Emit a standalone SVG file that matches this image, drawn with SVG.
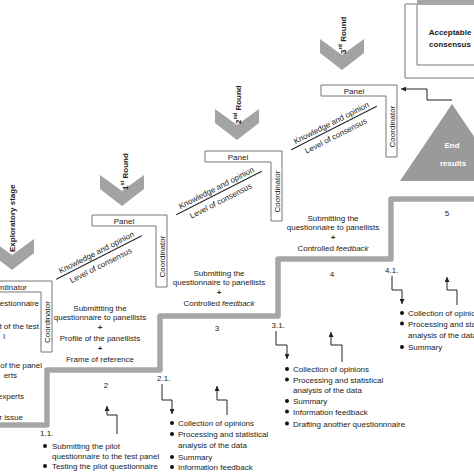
<svg xmlns="http://www.w3.org/2000/svg" width="474" height="474" viewBox="0 0 474 474">
<defs>
<marker id="ah" viewBox="0 0 6 6" refX="6" refY="3" markerWidth="5" markerHeight="5" orient="auto"><path d="M0,0 L6,3 L0,6 Z" fill="#222"/></marker>
</defs>
<style>
.t{font-family:"Liberation Sans",Arial,sans-serif;font-size:8px;fill:#222}
.c{text-anchor:middle}
.e{text-anchor:end}
.bd{font-weight:bold}
.w{fill:#fff}
.box{fill:#fff;stroke:#777;stroke-width:1}
.chev{fill:#a3a3a3}
.stair{fill:none;stroke:#a6a6a6;stroke-width:5.5;stroke-linejoin:round}
.ln{fill:none;stroke:#222;stroke-width:1}
.ar{fill:none;stroke:#222;stroke-width:1;marker-end:url(#ah)}
.dot{fill:#111}
</style>
<rect width="474" height="474" fill="#fff"/>

<g id="staircase">
<path class="stair" d="M0,425 H47 V370 H160 V316 H278 V259 H391 V199 H476"/>
<text class="t c" x="106" y="388">2</text>
<text class="t c" x="217" y="331">3</text>
<text class="t c" x="332" y="277">4</text>
<text class="t c" x="447" y="216">5</text>
</g>

<g id="exploratory">
<polygon class="chev" points="-10,239 12,255 34,239 34,253 12,270 -10,253"/>
<text class="t bd" font-size="9.5" transform="translate(14.5,252) rotate(-90)">Exploratory stage</text>
<path class="box" d="M-10,281 H52 V352 H41 V292 H-10 Z"/>
<text class="t e" x="27" y="289.5">rdinator</text>
<text class="t c" transform="translate(49.5,322) rotate(-90)">Coordinator</text>
<text class="t e" x="39" y="306">uestionnaire</text>
<text class="t e" x="39" y="329">t of the test</text>
<text class="t e" x="5" y="339">l</text>
<text class="t e" x="42" y="368">of the panel</text>
<text class="t e" x="17" y="378">erts</text>
<text class="t e" x="24" y="399">experts</text>
<text class="t e" x="23" y="420">r issue</text>
</g>

<g id="round1">
<polygon class="chev" points="100,175 122,191 144,175 144,189 122,206 100,189"/>
<text class="t bd" font-size="9.5" transform="translate(127.5,190) rotate(-90)">1<tspan font-size="5.5" dy="-3.5">st</tspan><tspan dy="3.5"> Round</tspan></text>
<path class="box" d="M92,215 H167 V287 H156 V226 H92 Z"/>
<text class="t c" x="124" y="224">Panel</text>
<text class="t c" transform="translate(164.5,256.5) rotate(-90)">Coordinator</text>
<g transform="translate(99,257.5) rotate(-27)">
<line class="ln" x1="-48" y1="0" x2="48" y2="0"/>
<text class="t c" x="0" y="-3">Knowledge and opinion</text>
<text class="t c" x="-2" y="10.5">Level of consensus</text>
</g>
</g>

<g id="round2">
<polygon class="chev" points="215,109 237,125 259,109 259,123 237,140 215,123"/>
<text class="t bd" font-size="9.5" transform="translate(240.5,124) rotate(-90)">2<tspan font-size="5.5" dy="-3.5">nd</tspan><tspan dy="3.5"> Round</tspan></text>
<path class="box" d="M205,151 H282 V221 H271 V162 H205 Z"/>
<text class="t c" x="238" y="160">Panel</text>
<text class="t c" transform="translate(279.5,191.5) rotate(-90)">Coordinator</text>
<g transform="translate(219,193) rotate(-27)">
<line class="ln" x1="-48" y1="0" x2="48" y2="0"/>
<text class="t c" x="0" y="-3">Knowledge and opinion</text>
<text class="t c" x="-2" y="10.5">Level of consensus</text>
</g>
</g>

<g id="round3">
<polygon class="chev" points="320,39 342,55 364,39 364,53 342,70 320,53"/>
<text class="t bd" font-size="9.5" transform="translate(345.5,54) rotate(-90)">3<tspan font-size="5.5" dy="-3.5">rd</tspan><tspan dy="3.5"> Round</tspan></text>
<path class="box" d="M321,85 H397 V157 H386 V96 H321 Z"/>
<text class="t c" x="354" y="94">Panel</text>
<text class="t c" transform="translate(394.5,126.5) rotate(-90)">Coordinator</text>
<g transform="translate(334,128) rotate(-27)">
<line class="ln" x1="-48" y1="0" x2="48" y2="0"/>
<text class="t c" x="0" y="-3">Knowledge and opinion</text>
<text class="t c" x="-2" y="10.5">Level of consensus</text>
</g>
</g>

<g id="end-results">
<polygon fill="#9a9a9a" points="452,104 400,181 504,181"/>
<text class="t c bd w" x="452" y="148">End</text>
<text class="t c bd w" x="453" y="166">results</text>
</g>

<g id="acceptable-consensus">
<path fill="none" stroke="#777" stroke-width="1" d="M476,78 H405 V4 H417"/>
<rect x="417" y="0" width="58" height="5" fill="#a6a6a6"/>
<path fill="none" stroke="#777" stroke-width="1" d="M476,65 H417 V5"/>
<text class="t c bd" x="450" y="35">Acceptable</text>
<text class="t c bd" x="450" y="47">consensus</text>
</g>

<g id="step2-text">
<text class="t c" x="100" y="311">Submittting the</text>
<text class="t c" x="100" y="320">questionnaire to panellists</text>
<text class="t c bd" x="100" y="330">+</text>
<text class="t c" x="100" y="341">Profile of the panellists</text>
<text class="t c bd" x="100" y="351">+</text>
<text class="t c" x="100" y="362">Frame of reference</text>
</g>

<g id="step3-text">
<text class="t c" x="219" y="276">Submitting the</text>
<text class="t c" x="219" y="285">questionnaire to panellists</text>
<text class="t c bd" x="219" y="295">+</text>
<text class="t c" x="219" y="306">Controlled <tspan font-style="italic">feedback</tspan></text>
</g>

<g id="step4-text">
<text class="t c" x="333" y="221">Submitting the</text>
<text class="t c" x="333" y="230">questionnaire to panellists</text>
<text class="t c bd" x="333" y="240">+</text>
<text class="t c" x="333" y="251">Controlled <tspan font-style="italic">feedback</tspan></text>
</g>

<g id="connectors">
<path class="ar" d="M117,434 V415 H107 V406"/>
<path class="ar" d="M162,384 V400 H172 V414"/>
<path class="ar" d="M227,415 V400 H217 V386"/>
<path class="ar" d="M276,331 V345 H287 V359"/>
<path class="ar" d="M342,362 V345 H331 V332"/>
<path class="ar" d="M392,276 V290 H402 V304"/>
<path class="ar" d="M457,305 V290 H447 V277"/>
<path class="ar" d="M452,100 H427 V89 H401"/>
</g>

<g id="step1-1">
<text class="t" x="40" y="436">1.1.</text>
<circle class="dot" cx="45" cy="446" r="2"/>
<circle class="dot" cx="45" cy="466" r="2"/>
<text class="t" x="52" y="449">Submitting the pilot</text>
<text class="t" x="52" y="459">questionnaire to the test panel</text>
<text class="t" x="52" y="469">Testing the pilot questionnaire</text>
</g>

<g id="step2-1">
<text class="t" x="157" y="381">2.1.</text>
<circle class="dot" cx="172" cy="423" r="2"/>
<circle class="dot" cx="172" cy="434" r="2"/>
<circle class="dot" cx="172" cy="457" r="2"/>
<circle class="dot" cx="172" cy="467" r="2"/>
<text class="t" x="178" y="426">Collection of opinions</text>
<text class="t" x="178" y="437">Processing and statistical</text>
<text class="t" x="178" y="448">analysis of the data</text>
<text class="t" x="178" y="460">Summary</text>
<text class="t" x="178" y="470">Information feedback</text>
</g>

<g id="step3-1">
<text class="t" x="271.5" y="328">3.1.</text>
<circle class="dot" cx="287" cy="369" r="2"/>
<circle class="dot" cx="287" cy="379.5" r="2"/>
<circle class="dot" cx="287" cy="401" r="2"/>
<circle class="dot" cx="287" cy="411.5" r="2"/>
<circle class="dot" cx="287" cy="423.5" r="2"/>
<text class="t" x="293" y="372">Collection of opinions</text>
<text class="t" x="293" y="382.5">Processing and statistical</text>
<text class="t" x="293" y="393">analysis of the data</text>
<text class="t" x="293" y="404">Summary</text>
<text class="t" x="293" y="414.5">Information feedback</text>
<text class="t" x="293" y="426.5">Drafting another questionnnaire</text>
</g>

<g id="step4-1">
<text class="t" x="385" y="273">4.1.</text>
<circle class="dot" cx="402" cy="313" r="2"/>
<circle class="dot" cx="402" cy="323.5" r="2"/>
<circle class="dot" cx="402" cy="347" r="2"/>
<text class="t" x="408" y="316">Collection of opinions</text>
<text class="t" x="408" y="326.5">Processing and statistical</text>
<text class="t" x="408" y="338">analysis of the data</text>
<text class="t" x="408" y="350">Summary</text>
</g>
</svg>
